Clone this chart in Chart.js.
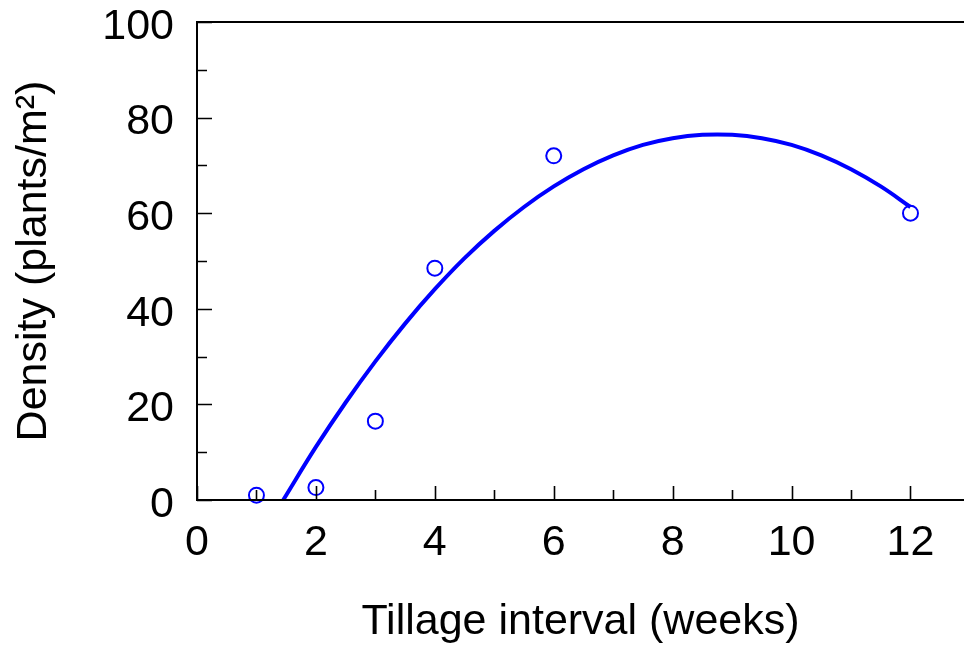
<!DOCTYPE html>
<html lang="en">
<head>
    <meta charset="UTF-8">
    <title>Tillage interval vs density</title>
    <style>
        html, body { margin: 0; padding: 0; background: #fff; overflow: hidden; }
        canvas { display: block; }
    </style>
</head>
<body>

    <canvas id="myChart" width="964" height="653"></canvas>

    <script src="https://cdn.jsdelivr.net/npm/chart.js@4.4.1/dist/chart.umd.min.js"></script>

    <script>
        // observed points
        var weeks = [1, 2, 3, 4, 6, 12];
        var density = [1, 2.6, 16.5, 48.5, 72, 60];

        // fitted curve
        var curveWeeks = [1.45, 2, 2.5, 3, 3.5, 4, 4.5, 5, 5.5, 6, 6.5, 7, 7.5, 8, 8.5, 9, 9.5, 10, 10.5, 11, 11.5, 12];
        var curveDensity = [0, 11.1, 20.4, 29.0, 36.9, 44.1, 50.6, 56.3, 61.3, 65.6, 69.2, 72.1, 74.3, 75.7, 76.4, 76.4, 75.7, 74.3, 72.1, 69.2, 65.6, 61.3];

        var xTicks = [0, 2, 4, 6, 8, 10, 12];
        var xMinor = [1, 3, 5, 7, 9, 11];
        var yTicks = [0, 20, 40, 60, 80, 100];
        var yMinor = [10, 30, 50, 70, 90];

        var fontFamily = '"Liberation Sans", Arial, sans-serif';

        function toXY(xs, ys) {
            var out = [];
            for (var i = 0; i < xs.length; i++) {
                out.push({ x: xs[i], y: ys[i] });
            }
            return out;
        }

        // axis frame and inward tick marks
        var frame = {
            id: 'frame',
            afterDraw: function (chart) {
                var ctx = chart.ctx;
                var area = chart.chartArea;
                var xs = chart.scales.x;
                var ys = chart.scales.y;
                ctx.save();
                ctx.strokeStyle = '#000';
                ctx.lineWidth = 2;
                ctx.beginPath();
                ctx.moveTo(chart.width, area.top);
                ctx.lineTo(area.left, area.top);
                ctx.lineTo(area.left, area.bottom);
                ctx.lineTo(chart.width, area.bottom);
                ctx.stroke();

                ctx.lineWidth = 1.6;
                ctx.beginPath();
                xTicks.forEach(function (v) {
                    var p = Math.round(xs.getPixelForValue(v)) + 0.5;
                    ctx.moveTo(p, area.bottom);
                    ctx.lineTo(p, area.bottom - 14);
                });
                xMinor.forEach(function (v) {
                    var p = Math.round(xs.getPixelForValue(v)) + 0.5;
                    ctx.moveTo(p, area.bottom);
                    ctx.lineTo(p, area.bottom - 10);
                });
                yTicks.forEach(function (v) {
                    var p = Math.round(ys.getPixelForValue(v)) + 0.5;
                    ctx.moveTo(area.left, p);
                    ctx.lineTo(area.left + 15, p);
                });
                yMinor.forEach(function (v) {
                    var p = Math.round(ys.getPixelForValue(v)) + 0.5;
                    ctx.moveTo(area.left, p);
                    ctx.lineTo(area.left + 10, p);
                });
                ctx.stroke();
                ctx.restore();
            }
        };

        var ctx = document.getElementById('myChart').getContext('2d');
        var myChart = new Chart(ctx, {
            type: 'scatter',
            data: {
                datasets: [
                    {
                        label: 'Fit',
                        type: 'line',
                        data: toXY(curveWeeks, curveDensity),
                        borderColor: '#0000ff',
                        borderWidth: 4,
                        pointRadius: 0,
                        fill: false,
                        tension: 0.4,
                        clip: false
                    },
                    {
                        label: 'Observed',
                        data: toXY(weeks, density),
                        pointStyle: 'circle',
                        pointRadius: 7.5,
                        pointBorderWidth: 2,
                        borderColor: '#0000ff',
                        backgroundColor: 'rgba(0,0,0,0)',
                        clip: false
                    }
                ]
            },
            options: {
                responsive: false,
                animation: false,
                devicePixelRatio: 1,
                layout: {
                    autoPadding: false,
                    padding: { top: 22, right: 0, left: 0, bottom: 0 }
                },
                plugins: {
                    legend: { display: false },
                    tooltip: { enabled: false }
                },
                scales: {
                    x: {
                        type: 'linear',
                        min: 0,
                        max: 12.9,
                        grid: { display: false, drawTicks: false },
                        border: { display: false },
                        afterBuildTicks: function (scale) {
                            scale.ticks = xTicks.map(function (v) { return { value: v }; });
                        },
                        afterFit: function (scale) {
                            scale.height = 153;
                            scale.paddingLeft = 0;
                            scale.paddingRight = 0;
                        },
                        ticks: {
                            padding: 17,
                            maxRotation: 0,
                            autoSkip: false,
                            color: '#000',
                            font: { family: fontFamily, size: 43 }
                        },
                        title: {
                            display: true,
                            text: 'Tillage interval (weeks)',
                            color: '#000',
                            padding: { top: 0, bottom: 5 },
                            font: { family: fontFamily, size: 43 }
                        }
                    },
                    y: {
                        type: 'linear',
                        min: 0,
                        max: 100,
                        grid: { display: false, drawTicks: false },
                        border: { display: false },
                        afterBuildTicks: function (scale) {
                            scale.ticks = yTicks.map(function (v) { return { value: v }; });
                        },
                        afterFit: function (scale) {
                            scale.width = 197;
                            scale.paddingTop = 0;
                            scale.paddingBottom = 0;
                        },
                        ticks: {
                            padding: 23,
                            autoSkip: false,
                            color: '#000',
                            font: { family: fontFamily, size: 43, lineHeight: '10px' },
                            callback: function (v) { return ['', String(v)]; }
                        },
                        title: {
                            display: true,
                            text: 'Density (plants/m²)',
                            color: '#000',
                            padding: { top: 8, bottom: 0 },
                            font: { family: fontFamily, size: 43 }
                        }
                    }
                }
            },
            plugins: [frame]
        });
    </script>

</body>
</html>
